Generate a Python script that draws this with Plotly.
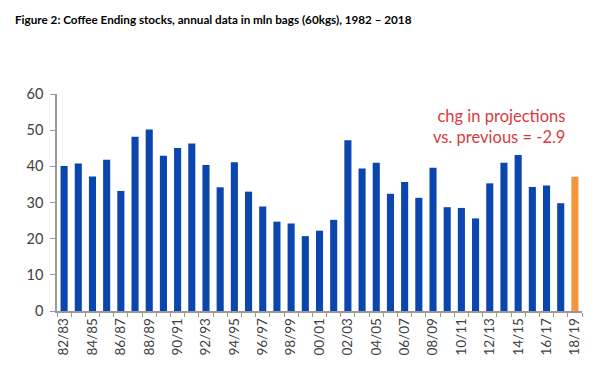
import plotly.graph_objects as go

seasons = ["82/83","83/84","84/85","85/86","86/87","87/88","88/89","89/90","90/91","91/92",
           "92/93","93/94","94/95","95/96","96/97","97/98","98/99","99/00","00/01","01/02",
           "02/03","03/04","04/05","05/06","06/07","07/08","08/09","09/10","10/11","11/12",
           "12/13","13/14","14/15","15/16","16/17","17/18","18/19"]
stocks = [40.1, 40.8, 37.2, 41.8, 33.2, 48.2, 50.2, 42.9, 45.1, 46.3,
          40.4, 34.2, 41.1, 33.0, 28.9, 24.7, 24.2, 20.7, 22.2, 25.2,
          47.2, 39.4, 41.0, 32.4, 35.7, 31.3, 39.6, 28.7, 28.5, 25.6,
          35.3, 41.0, 43.1, 34.3, 34.7, 29.8, 37.1]
tick_labels = [s if i % 2 == 0 else "" for i, s in enumerate(seasons)]
annotation_text = "chg in projections<br>vs. previous = -2.9"
title_text = "Figure 2: Coffee Ending stocks, annual data in mln bags (60kgs), 1982 \u2013 2018"

colors = ["#0a46ad"] * (len(stocks) - 1) + ["#f2953c"]

fig = go.Figure(go.Bar(x=seasons, y=stocks, marker=dict(color=colors, line=dict(width=0)),
                       width=0.5))

fig.update_layout(
    width=608, height=385,
    margin=dict(l=57, r=26, t=94, b=74),
    paper_bgcolor="white", plot_bgcolor="white",
    showlegend=False,
    title=dict(text="<b>" + title_text + "</b>", x=15/608, xanchor="left",
               y=1 - 20/385, yanchor="middle",
               font=dict(family="Lato", size=11.7, color="black")),
    font=dict(family="Lato", color="#404040"),
)
fig.update_xaxes(
    type="category", tickvals=seasons, ticktext=tick_labels, tickangle=-90,
    tickson="boundaries", ticks="outside", ticklen=4, tickcolor="#999999",
    showline=True, linecolor="#999999", linewidth=1.5, showgrid=False,
    tickfont=dict(size=13.5, color="#404040"), range=[-0.5, len(seasons) - 0.5],
)
fig.update_yaxes(
    range=[0, 60], dtick=10, ticks="outside", ticklen=5, tickcolor="#999999",
    showline=True, linecolor="#999999", linewidth=1.5, showgrid=False, zeroline=False,
    tickfont=dict(size=14.5, color="#404040"), ticklabelstandoff=4,
)
fig.add_annotation(text=annotation_text, xref="paper", yref="paper", x=(567-57)/525,
                   y=(311-104)/217, xanchor="right", yanchor="top", align="right",
                   showarrow=False, font=dict(family="Lato", size=16.5, color="#d93a40"))

fig.write_html("out.html", config={"displayModeBar": False},
               post_script="document.body.style.margin='0';")
